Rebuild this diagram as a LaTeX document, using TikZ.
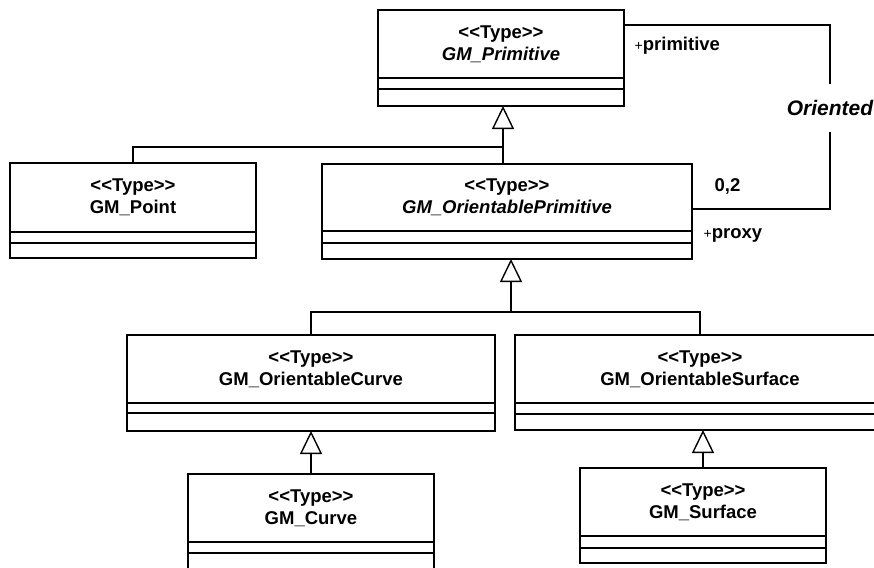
\documentclass[tikz,border=0pt]{standalone}
\usepackage{fontspec}
\newfontfamily\umlfam{Liberation Sans}
\usetikzlibrary{arrows.meta, positioning}
\newcommand{\umlfont}{\umlfam\fontsize{18.5}{21}\selectfont\bfseries}
\newcommand{\plusfont}{\fontsize{14}{16}\selectfont\mdseries}

\begin{document}
\begin{tikzpicture}
[x=1pt,y=-1pt,line width=1.4pt,
                    classname/.style={draw,anchor=north west,inner sep=0pt,outer sep=0pt,
                    minimum height=68pt,align=center,font=\umlfont},
                    compart/.style={draw,inner sep=0pt,outer sep=0pt,below=0pt of #1},
                    inherit/.style={-{Triangle[open,width=22pt,length=23pt]}},
                    role/.style={inner sep=0pt,font=\umlfont}]

\useasboundingbox (0,0) rectangle (874,567);
\clip (0,0) rectangle (874,567);

% classes
\node[classname, minimum width=246pt] (prim) at (378,10) {<<Type>>\\[1pt]\textit{GM\_Primitive}};
\node[compart=prim, minimum width=246pt, minimum height=11pt] (prim-a) {};
\node[compart=prim-a, minimum width=246pt, minimum height=17pt] (prim-o) {};

\node[classname, minimum width=246pt, minimum height=69pt] (point) at (10,163) {<<Type>>\\[1pt]GM\_Point};
\node[compart=point, minimum width=246pt, minimum height=11pt] (point-a) {};
\node[compart=point-a, minimum width=246pt, minimum height=15pt] (point-o) {};

\node[classname, minimum width=370pt, minimum height=67pt] (oprim) at (322,164) {<<Type>>\\[1pt]\textit{GM\_OrientablePrimitive}};
\node[compart=oprim, minimum width=370pt, minimum height=12pt] (oprim-a) {};
\node[compart=oprim-a, minimum width=370pt, minimum height=16pt] (oprim-o) {};

\node[classname, minimum width=368pt] (ocurve) at (127,335) {<<Type>>\\[1pt]GM\_OrientableCurve};
\node[compart=ocurve, minimum width=368pt, minimum height=10pt] (ocurve-a) {};
\node[compart=ocurve-a, minimum width=368pt, minimum height=18pt] (ocurve-o) {};

\node[classname, minimum width=370pt] (osurf) at (515,335) {<<Type>>\\[1pt]GM\_OrientableSurface};
\node[compart=osurf, minimum width=370pt, minimum height=11pt] (osurf-a) {};
\node[compart=osurf-a, minimum width=370pt, minimum height=16pt] (osurf-o) {};

\node[classname, minimum width=246pt] (curve) at (188,474) {<<Type>>\\[1pt]GM\_Curve};
\node[compart=curve, minimum width=246pt, minimum height=11pt] (curve-a) {};
\node[compart=curve-a, minimum width=246pt, minimum height=22pt] (curve-o) {};

\node[classname, minimum width=246pt] (surf) at (580,468) {<<Type>>\\[1pt]GM\_Surface};
\node[compart=surf, minimum width=246pt, minimum height=12pt] (surf-a) {};
\node[compart=surf-a, minimum width=246pt, minimum height=15pt] (surf-o) {};

% generalisations
\coordinate (g1) at (503,147);
\coordinate (g2) at (511,312);
\draw[inherit] (point.north) |- (g1) -- (prim-o.south -| g1);
\draw (oprim.north -| g1) -- (g1);
\draw[inherit] (ocurve.north) |- (g2) -- (oprim-o.south -| g2);
\draw (osurf.north) |- (g2);
\draw[inherit] (curve.north) -- (ocurve-o.south -| curve.north);
\draw[inherit] (surf.north) -- (osurf-o.south -| surf.north);

% association
\coordinate (a1) at (830,25);
\coordinate (a2) at (830,209);
\draw (a1 -| prim.east) -- (a1)
	-- node[pos=0.45, fill=white, inner xsep=0pt, inner ysep=16pt, font=\umlfam\fontsize{21}{24}\selectfont\bfseries\itshape] (assoc) {Oriented} (a2)
	-- (a2 -| oprim.east);

\node[role, anchor=west] (rprim) at (634,46) {{\plusfont +}primitive};
\node[role, anchor=west] (mproxy) at (714,186) {0,2};
\node[role, anchor=west] (rproxy) at (703,235) {{\plusfont +}proxy};
\end{tikzpicture}
\end{document}
